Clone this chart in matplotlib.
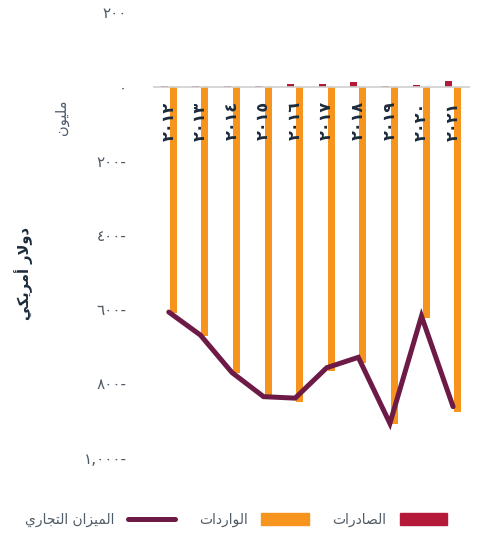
import numpy as np
import matplotlib.pyplot as plt
from matplotlib.patches import Patch
from matplotlib.lines import Line2D

plt.rcParams['font.family'] = ['DejaVu Sans']

# Years shown in Arabic-Indic digits
years = ['٢٠١٢', '٢٠١٣', '٢٠١٤', '٢٠١٥', '٢٠١٦',
         '٢٠١٧', '٢٠١٨', '٢٠١٩', '٢٠٢٠', '٢٠٢١']

# Million USD
exports = [2, 2, 2, 2, 8, 8, 12, 2.5, 5, 15]
imports = [610, 672, 773, 838, 850, 766, 744, 911, 624, 878]
balance = [-608, -670, -771, -836, -840, -758, -730, -908, -619, -863]

yticks = [200, 0, -200, -400, -600, -800, -1000]
ytick_labels = ['٢٠٠', '٠', '٢٠٠-', '٤٠٠-', '٦٠٠-', '٨٠٠-', '١,٠٠٠-']

# Arabic strings pre-shaped (presentation forms, visual order) since
# matplotlib has no bidi / shaping support
lbl_exports = '\uFE95\uFE8D\uFEAD\uFEA9\uFE8E\uFEBC\uFEDF\uFE8D'          # الصادرات
lbl_imports = '\uFE95\uFE8D\uFEA9\uFEAD\uFE8D\uFEEE\uFEDF\uFE8D'          # الواردات
lbl_balance = ('\uFEF1\uFEAD\uFE8E\uFEA0\uFE98\uFEDF\uFE8D '
               '\uFEE5\uFE8D\uFEB0\uFEF4\uFEE4\uFEDF\uFE8D')             # الميزان التجاري
lbl_unit = '\uFEE5\uFEEE\uFEF4\uFEE0\uFEE3'                               # مليون
lbl_currency = ('\uFEF2\uFEDC\uFEF3\uFEAE\uFEE3\uFE83 '
                '\uFEAD\uFEFB\uFEED\uFEA9')                              # دولار أمريكي

c_exp = '#b5193a'
c_imp = '#f7941d'
c_bal = '#6d1a47'
c_txt = '#1c2b3b'
c_tick = '#4f5b66'

W, H = 494, 535
fig = plt.figure(figsize=(W / 100, H / 100), dpi=100)
ax = fig.add_axes([153 / W, 1 - 457.5 / H, 316.5 / W, 445.2 / H])

x = np.arange(len(years))
bw = 0.22
off = 0.145
ax.bar(x - off, exports, width=bw, color=c_exp, zorder=2)
ax.bar(x + off, -np.array(imports), width=bw, color=c_imp, zorder=2)
ax.plot(x, balance, color=c_bal, lw=3.6, solid_capstyle='round',
        solid_joinstyle='miter', zorder=4)
ax.axhline(0, color='#cfcfcf', lw=1.2, zorder=3)

for xi, yr in zip(x, years):
    ax.text(xi, -40, yr, rotation=90, ha='center', va='top',
            fontsize=11.5, fontweight='bold', color=c_txt, zorder=5)

ax.set_xlim(-0.5, 9.52)
ax.set_ylim(-1000, 200)
ax.set_xticks([])
ax.set_yticks(yticks)
ax.set_yticklabels(ytick_labels, fontsize=11, color=c_tick)
ax.tick_params(axis='y', length=0, pad=19)
for s in ax.spines.values():
    s.set_visible(False)

fig.text(62 / W, 1 - 117 / H, lbl_unit, rotation=90, ha='center', va='center',
         fontsize=10.5, color='#4d5d70')
fig.text(24 / W, 1 - 274 / H, lbl_currency, rotation=90, ha='center',
         va='center', fontsize=10.5, fontweight='bold', color=c_txt)

handles = [Line2D([], [], color=c_bal, lw=3.6, solid_capstyle='round'),
           Patch(color=c_imp), Patch(color=c_exp)]
fig.legend(handles, [lbl_balance, lbl_imports, lbl_exports], ncol=3,
           loc='center', bbox_to_anchor=(236 / W, 1 - 520 / H),
           frameon=False, markerfirst=False, fontsize=10,
           handlelength=3.4, handleheight=0.95, handletextpad=1.0,
           columnspacing=1.7, labelcolor=c_tick)

fig.savefig('out.png', dpi=100)
